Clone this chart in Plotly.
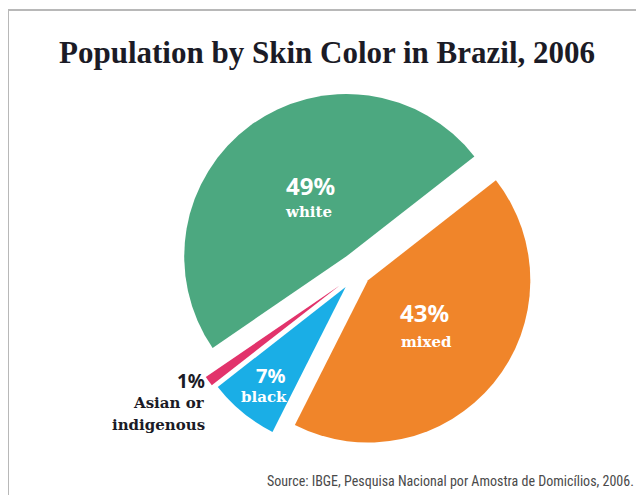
import plotly.graph_objects as go

# Data
categories = ["mixed", "black", "Asian or indigenous", "white"]
values = [43, 7, 1, 49]
colors = ["#F0852A", "#1AAEE6", "#E2336B", "#4CA880"]
pulls = [0.08, 0.12, 0.14, 0.12]

OFF = 8  # page body margin
W, H = 644 - OFF, 495 - OFF
# plot area in reference pixel coords: x 173..543, y 87..457
L, T = 173 - OFF, 87 - OFF
PW, PH = 370, 370
R, B = W - L - PW, H - T - PH


def px(x):
    return (x - OFF - L) / PW


def py(y):
    return 1 - (y - OFF - T) / PH


fig = go.Figure(go.Pie(
    labels=categories,
    values=values,
    marker=dict(colors=colors, line=dict(width=0)),
    pull=pulls,
    sort=False,
    direction="clockwise",
    rotation=52,
    textinfo="none",
    hoverinfo="label+percent",
    showlegend=False,
))

pct_font = dict(family="Noto Sans, Open Sans, sans-serif", size=24, color="white")
lab_font = dict(family="DejaVu Serif, serif", size=15, color="white")
dark = "#1b1b26"

annotations = [
    # title
    dict(x=px(327), y=py(52), text="<b>Population by Skin Color in Brazil, 2006</b>",
         font=dict(family="Liberation Serif, DejaVu Serif, serif", size=31, color=dark)),
    # white
    dict(x=px(310), y=py(186), text="<b>49%</b>", font=pct_font),
    dict(x=px(308), y=py(212), text="<b>white</b>", font=lab_font),
    # mixed
    dict(x=px(424), y=py(312), text="<b>43%</b>", font=pct_font),
    dict(x=px(426), y=py(342), text="<b>mixed</b>", font=lab_font),
    # black
    dict(x=px(270), y=py(375), text="<b>7%</b>", font=dict(pct_font, size=20)),
    dict(x=px(264), y=py(397), text="<b>black</b>", font=lab_font),
    # asian
    dict(x=px(207), y=py(381), text="<b>1%</b>", xanchor="right",
         font=dict(family="Noto Sans, Open Sans, sans-serif", size=19, color=dark)),
    dict(x=px(207), y=py(403), text="<b>Asian or</b>", xanchor="right",
         font=dict(family="DejaVu Serif, serif", size=15, color=dark)),
    dict(x=px(207), y=py(425), text="<b>indigenous</b>", xanchor="right",
         font=dict(family="DejaVu Serif, serif", size=15, color=dark)),
    # source
    dict(x=px(636), y=py(481), xanchor="right",
         text="Source: IBGE, Pesquisa Nacional por Amostra de Domicílios, 2006.",
         font=dict(family="Liberation Sans Narrow, Roboto Condensed, Arial Narrow, sans-serif",
                   size=14, color="#4a4a4a")),
]
for a in annotations:
    a.setdefault("xref", "paper")
    a.setdefault("yref", "paper")
    a.setdefault("showarrow", False)
    a.setdefault("xanchor", "center")
    a.setdefault("yanchor", "middle")

fig.update_layout(
    width=W, height=H,
    margin=dict(l=L, r=R, t=T, b=B),
    paper_bgcolor="white",
    plot_bgcolor="white",
    annotations=annotations,
    shapes=[dict(type="rect", xref="paper", yref="paper",
                 x0=px(8), x1=px(642), y0=py(510), y1=py(10),
                 line=dict(color="#b8b8b8", width=2), fillcolor="rgba(0,0,0,0)",
                 layer="below")],
)

fig.write_html("out.html")
